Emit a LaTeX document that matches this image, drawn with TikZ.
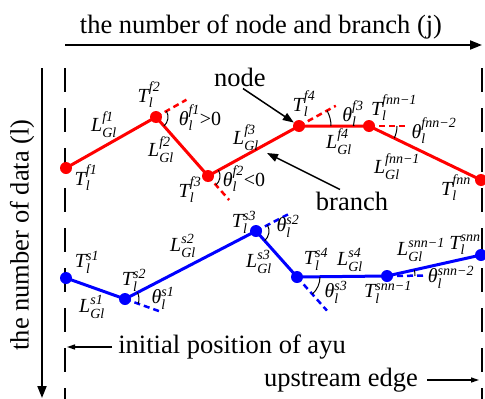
\documentclass[tikz,border=0pt]{standalone}
\usepackage{fontspec}
\setmainfont{Liberation Serif}
\usepackage{amsmath}
\usetikzlibrary{arrows.meta,calc}
\newcommand{\sy}[3]{{\itshape #1}$_{\text{\itshape #2}}^{\text{\itshape #3}}$}
\begin{document}
\begin{tikzpicture}[x=1pt,y=-1pt,
  lab/.style={font=\fontsize{20}{24}\selectfont, inner sep=0pt},
  txt/.style={font=\fontsize{26.5}{30}\selectfont, inner sep=0pt},
  rline/.style={red, line width=3pt},
  bline/.style={blue, line width=3pt},
  rdash/.style={red, line width=2.5pt, dash pattern=on 6pt off 4pt},
  bdash/.style={blue, line width=2.5pt, dash pattern=on 6pt off 4pt},
  dot/.style={circle, fill, inner sep=0pt, minimum size=12pt},
  angarc/.style={black, line width=1pt},
  vdash/.style={black, line width=2pt, dash pattern=on 24pt off 16pt},
  axis/.style={black, line width=2pt, -{Triangle[length=12pt,width=9pt]}},
  ptr/.style={black, line width=1.5pt, -{Triangle[length=11pt,width=8pt]}},
  ptrs/.style={black, line width=1.3pt, -{Triangle[length=8pt,width=5pt]}}
]
\useasboundingbox (0,0) rectangle (485,399);

% axes
\coordinate (xa) at (65,45);
\coordinate (xb) at (482,45);
\draw[axis] (xa) -- (xb);
\node[txt] (xlab) at (261,27) {the number of node and branch (j)};
\coordinate (ya) at (42,68);
\coordinate (yb) at (42,398);
\draw[axis] (ya) -- (yb);
\node[txt, rotate=90] (ylab) at (22,235) {the number of data (l)};

% dashed boundaries
\coordinate (la) at (65,68);
\coordinate (lb) at (65,399);
\coordinate (ra) at (482,68);
\coordinate (rb) at (482,399);
\draw[vdash] (la) -- (lb);
\draw[vdash] (ra) -- (rb);

% red nodes
\node[dot, red] (f1) at (66,168) {};
\node[dot, red] (f2) at (156,117) {};
\node[dot, red] (f3) at (208,176) {};
\node[dot, red] (f4) at (299,126) {};
\node[dot, red] (fn1) at (369,126) {};
\node[dot, red] (fn) at (481,180) {};
\draw[rline] (f1.center) -- (f2.center) -- (f3.center) -- (f4.center) -- (fn1.center) -- (fn.center);
\draw[rdash] (f2.center) -- ($(f2.center)!-35pt!(f1.center)$);
\draw[rdash] (f3.center) -- ($(f3.center)!-32pt!(f2.center)$);
\draw[rdash] (f4.center) -- ($(f4.center)!-42pt!(f3.center)$);
\draw[rdash] (fn1.center) -- ($(fn1.center)!-39pt!(f4.center)$);
\draw[angarc] ($(f2.center)+(-29.5:12)$) arc[start angle=-29.5, end angle=48.6, radius=12];
\draw[angarc] ($(f3.center)+(-28.8:12)$) arc[start angle=-28.8, end angle=48.6, radius=12];
\draw[angarc] ($(f4.center)+(-28.8:32)$) arc[start angle=-28.8, end angle=0, radius=32];
\draw[angarc] ($(fn1.center)+(0:28)$) arc[start angle=0, end angle=25.7, radius=28];

% blue nodes
\node[dot, blue] (s1) at (66,278) {};
\node[dot, blue] (s2) at (125,299) {};
\node[dot, blue] (s3) at (256,231) {};
\node[dot, blue] (s4) at (297,277) {};
\node[dot, blue] (sn1) at (387,276) {};
\node[dot, blue] (sn) at (481,255) {};
\draw[bline] (s1.center) -- (s2.center) -- (s3.center) -- (s4.center) -- (sn1.center) -- (sn.center);
\draw[bdash] (s2.center) -- ($(s2.center)!-37pt!(s1.center)$);
\draw[bdash] (s3.center) -- ($(s3.center)!-37pt!(s2.center)$);
\draw[bdash] (s4.center) -- ($(s4.center)!-45pt!(s3.center)$);
\draw[bdash] (sn1.center) -- ($(sn1.center)!-38pt!(s4.center)$);
\draw[angarc] ($(s2.center)+(-27.4:14)$) arc[start angle=-27.4, end angle=19.6, radius=14];
\draw[angarc] ($(s3.center)+(-27.4:13)$) arc[start angle=-27.4, end angle=48.3, radius=13];
\draw[angarc] ($(s4.center)+(0:23)$) arc[start angle=0, end angle=48.3, radius=23];
\draw[angarc] ($(sn1.center)+(-12.6:28)$) arc[start angle=-12.6, end angle=0, radius=28];

% red labels
\node[lab] (tf1) at (86,178) {\sy{T}{l}{f1}};
\node[lab] (tf2) at (149,95) {\sy{T}{l}{f2}};
\node[lab] (af1) at (200,118) {\sy{θ}{l}{f1}>0};
\node[lab] (lf1) at (104,125) {\sy{L}{Gl}{f1}};
\node[lab] (lf2) at (161,150) {\sy{L}{Gl}{f2}};
\node[lab] (tf3) at (190,190) {\sy{T}{l}{f3}};
\node[lab] (af2) at (244,179) {\sy{θ}{l}{f2}<0};
\node[lab] (lf3) at (246,138) {\sy{L}{Gl}{f3}};
\node[lab] (tf4) at (304,104) {\sy{T}{l}{f4}};
\node[lab] (af3) at (353,114) {\sy{θ}{l}{f3}};
\node[lab] (tfn1) at (394,108) {\sy{T}{l}{fnn\textminus 1}};
\node[lab] (lf4) at (339,142) {\sy{L}{Gl}{f4}};
\node[lab] (afn2) at (434,131) {\sy{θ}{l}{fnn\textminus 2}};
\node[lab] (lfn1) at (397,167) {\sy{L}{Gl}{fnn\textminus 1}};
\node[lab] (tfn) at (456,188) {\sy{T}{l}{fnn}};

% blue labels
\node[lab] (ts1) at (87,262) {\sy{T}{l}{s1}};
\node[lab] (ls1) at (92,307) {\sy{L}{Gl}{s1}};
\node[lab] (ts2) at (134,280) {\sy{T}{l}{s2}};
\node[lab] (as1) at (163,298) {\sy{θ}{l}{s1}};
\node[lab] (ls2) at (183,246) {\sy{L}{Gl}{s2}};
\node[lab] (ts3) at (244,222) {\sy{T}{l}{s3}};
\node[lab] (as2) at (288,226) {\sy{θ}{l}{s2}};
\node[lab] (ls3) at (259,262) {\sy{L}{Gl}{s3}};
\node[lab] (ts4) at (316,259) {\sy{T}{l}{s4}};
\node[lab] (ls4) at (350,260) {\sy{L}{Gl}{s4}};
\node[lab] (as3) at (336,292) {\sy{θ}{l}{s3}};
\node[lab] (tsn1) at (388,292) {\sy{T}{l}{snn\textminus 1}};
\node[lab] (lsn1) at (421,250) {\sy{L}{Gl}{snn\textminus 1}};
\node[lab] (tsn) at (465,245) {\sy{T}{l}{snn}};
\node[lab] (asn2) at (451,277) {\sy{θ}{l}{snn\textminus 2}};

% callouts
\node[txt] (nodetxt) at (240,77) {node};
\draw[ptr] ([xshift=3pt,yshift=-2pt]nodetxt.south) -- (f4);
\node[txt] (brtxt) at (352,201) {branch};
\coordinate (brtip) at (267,153);
\draw[ptr] ([xshift=-12pt,yshift=2pt]brtxt.north) -- (brtip);

\node[txt] (init) at (232,347) {initial position of ayu};
\coordinate (initpt) at (67,347);
\draw[ptrs] ([xshift=-6pt]init.west) -- (initpt);
\node[txt] (up) at (341,380) {upstream edge};
\coordinate (uppt) at (479,380);
\draw[ptrs] ([xshift=9pt]up.east) -- (uppt);
\end{tikzpicture}
\end{document}
